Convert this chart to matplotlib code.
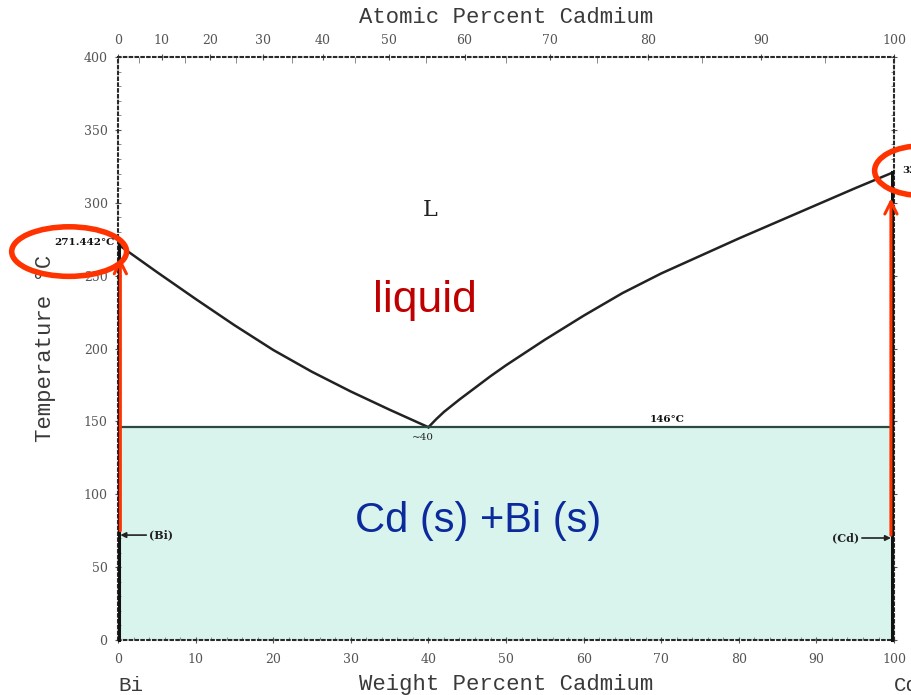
import matplotlib
matplotlib.use("Agg")
import matplotlib.pyplot as plt
import numpy as np
from matplotlib.patches import Ellipse

# Bi-Cd binary phase diagram data
M_BI = 208.98
M_CD = 112.41

liq_bi_w = [0, 5, 10, 15, 20, 25, 30, 35, 40]
liq_bi_t = [271.442, 252.5, 234, 216, 199, 184, 170.5, 158, 146]

liq_cd_w = [40, 41, 42, 44, 46, 48, 50, 55, 60, 65, 70, 75, 80, 85, 90, 95, 100]
liq_cd_t = [146, 151.5, 156.5, 165, 173, 181, 188.5, 206, 222.5, 238, 251.5, 263.5,
            275.5, 287, 298.5, 310, 321.108]

eutectic_t = 146
eutectic_w = 40
bi_melt = 271.442
cd_melt = 321.108

x_ticks = list(range(0, 101, 10))
y_ticks = list(range(0, 401, 50))
at_ticks = list(range(0, 101, 10))


def w_to_a(w):
    w = np.clip(np.asarray(w, dtype=float), 0, 100)
    nb = (100 - w) / M_BI
    nc = w / M_CD
    return 100 * nc / np.maximum(nc + nb, 1e-12)


def a_to_w(a):
    a = np.clip(np.asarray(a, dtype=float), 0, 100)
    mc = a * M_CD
    mb = (100 - a) * M_BI
    return 100 * mc / np.maximum(mc + mb, 1e-12)


fig = plt.figure(figsize=(9.12, 6.95), dpi=100)
ax = fig.add_axes([0.1294, 0.0791, 0.8509, 0.8389])
ax.set_xlim(0, 100)
ax.set_ylim(0, 400)

mono = "Liberation Mono"
serif = "DejaVu Serif"
grey = "#3a3a3a"

# two-solid region
ax.fill_between([0, 100], 0, eutectic_t, color="#d8f4ec", zorder=0, lw=0)

# liquidus and eutectic
ax.plot(liq_bi_w, liq_bi_t, color="#222222", lw=1.8, zorder=3,
        solid_joinstyle="round")
ax.plot(liq_cd_w, liq_cd_t, color="#222222", lw=1.8, zorder=3,
        solid_joinstyle="round")
ax.plot([0, 100], [eutectic_t, eutectic_t], color="#2b4a42", lw=1.6, zorder=3)

# pure component lines
ax.plot([0.15, 0.15], [0, bi_melt], color="#111111", lw=2.2, zorder=3, clip_on=False)
ax.plot([99.75, 99.75], [0, cd_melt], color="#111111", lw=2.2, zorder=3, clip_on=False)

# red arrows
ax.annotate("", xy=(0.3, 262), xytext=(0.3, 75),
            arrowprops=dict(arrowstyle="->", color="#ff3300", lw=2.2,
                            mutation_scale=22, shrinkA=0, shrinkB=0), zorder=5)
ax.annotate("", xy=(99.6, 303), xytext=(99.6, 72),
            arrowprops=dict(arrowstyle="->", color="#ff3300", lw=2.2,
                            mutation_scale=22, shrinkA=0, shrinkB=0), zorder=5)

# red ellipses around melting points
ax.add_patch(Ellipse((-6.3, 266.5), 14.8, 34, fill=False, ec="#ff3300", lw=4,
                     clip_on=False, zorder=6))
ax.add_patch(Ellipse((103.5, 322), 12, 34, fill=False, ec="#ff3300", lw=4,
                     clip_on=False, zorder=6))

# annotations
ax.text(-0.4, 273, "271.442°C", ha="right", va="center", fontsize=7.5,
        fontweight="bold", family=serif, color="#111111", zorder=7)
ax.text(101.0, 322, "321.108°C", ha="left", va="center", fontsize=7.5,
        fontweight="bold", family=serif, color="#111111", clip_on=False, zorder=7)
ax.text(40.2, 295, "L", ha="center", va="center", fontsize=16, family=serif,
        color="#222222")
ax.text(39.6, 233, "liquid", ha="center", va="center", fontsize=32,
        family="Liberation Sans", color="#c00000")
ax.text(46.4, 82, "Cd (s) +Bi (s)", ha="center", va="center", fontsize=30,
        family="Liberation Sans", color="#0b2a9c")
ax.text(39.3, 139, "~40", ha="center", va="center", fontsize=7.5,
        family=serif, color="#222222")
ax.text(70.7, 151, "146°C", ha="center", va="center", fontsize=7.5,
        fontweight="bold", family=serif, color="#111111")

ax.annotate("(Bi)", xy=(0.3, 72), xytext=(4.0, 72), ha="left", va="center",
            fontsize=8, family=serif, fontweight="bold", color="#222222",
            arrowprops=dict(arrowstyle="-|>", color="#222222", lw=1.2,
                            mutation_scale=8, shrinkA=0, shrinkB=0))
ax.annotate("(Cd)", xy=(99.6, 70), xytext=(95.5, 70), ha="right", va="center",
            fontsize=8, family=serif, fontweight="bold", color="#222222",
            arrowprops=dict(arrowstyle="-|>", color="#222222", lw=1.2,
                            mutation_scale=8, shrinkA=0, shrinkB=0))

# axes styling
for s in ax.spines.values():
    s.set_linestyle((0, (1.2, 1.6)))
    s.set_linewidth(1.5)
    s.set_color("#2a2a2a")

ax.set_xticks(x_ticks)
ax.set_yticks(y_ticks)
ax.set_xticks(np.arange(0, 101, 2), minor=True)
ax.set_yticks(np.arange(0, 401, 10), minor=True)
ax.tick_params(which="major", direction="inout", length=5, width=0.8,
               colors="#555555", labelsize=9, right=True)
ax.tick_params(axis="x", which="major", pad=7)
ax.tick_params(axis="y", which="major", pad=5)
ax.tick_params(which="minor", direction="in", length=2, width=0.6,
               colors="#777777", right=True)
for lab in ax.get_xticklabels() + ax.get_yticklabels():
    lab.set_family(serif)
    lab.set_color("#555555")

ax.set_xlabel("Weight Percent Cadmium", fontsize=16, family=mono, color=grey)
ax.xaxis.set_label_coords(0.5, -0.058)
ax.set_ylabel("Temperature °C", fontsize=16, family=mono, color=grey)
ax.yaxis.set_label_coords(-0.08, 0.5)

ax.text(0.0, -0.061, "Bi", transform=ax.transAxes, ha="left",
        va="top", fontsize=15, family=mono, color=grey)
ax.text(1.0, -0.061, "Cd", transform=ax.transAxes, ha="left",
        va="top", fontsize=15, family=mono, color=grey, clip_on=False)

top = ax.secondary_xaxis("top", functions=(w_to_a, a_to_w))
top.set_xticks(at_ticks)
top.set_xticks(np.arange(5, 100, 10), minor=True)
top.tick_params(which="major", direction="inout", length=5, width=0.8,
                colors="#555555", labelsize=9, pad=5)
top.tick_params(which="minor", direction="in", length=4, width=0.6,
                colors="#777777")
for lab in top.get_xticklabels():
    lab.set_family(serif)
    lab.set_color("#555555")
top.spines["top"].set_visible(False)
ax.text(0.5, 1.068, "Atomic Percent Cadmium", transform=ax.transAxes,
        ha="center", va="center", fontsize=16, family=mono, color=grey)

fig.savefig("out.png", dpi=100)
